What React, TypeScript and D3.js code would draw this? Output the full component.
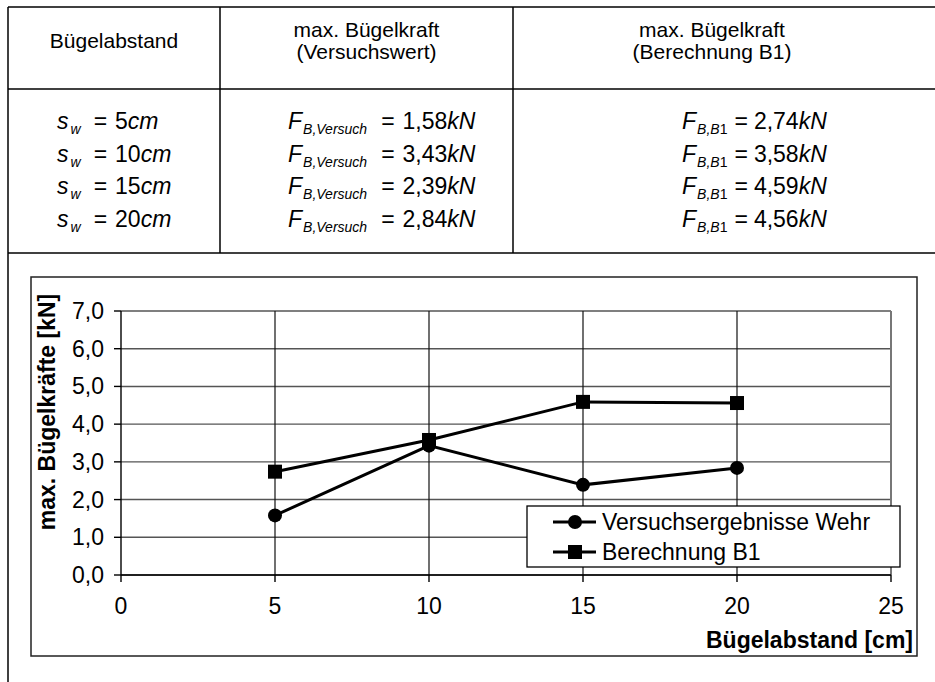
import React from "react";
import * as d3 from "d3";

const spacings = [5, 10, 15, 20];
const versuchValues = [1.58, 3.43, 2.39, 2.84];
const b1Values = [2.74, 3.58, 4.59, 4.56];
const versuchLabels = ["1,58", "3,43", "2,39", "2,84"];
const b1Labels = ["2,74", "3,58", "4,59", "4,56"];
const xTicks = [0, 5, 10, 15, 20, 25];
const yTicks = [0, 1, 2, 3, 4, 5, 6, 7];
const seriesNames = ["Versuchsergebnisse Wehr", "Berechnung B1"];
const headers = [["Bügelabstand"], ["max. Bügelkraft", "(Versuchswert)"], ["max. Bügelkraft", "(Berechnung B1)"]];

const FONT = "'Liberation Sans', Arial, sans-serif";

export default function App() {
  const x = d3.scaleLinear().domain([0, 25]).range([121, 891]);
  const y = d3.scaleLinear().domain([0, 7]).range([575, 311]);
  const line = d3.line<number>().x((d, i) => x(spacings[i])).y((d) => y(d));

  const col = [8, 220, 513, 935];
  const rowY = [121, 153.5, 186, 218.5];
  const fs = 23;
  const sub = 14;
  const cfs = 23;

  return (
    <svg width={935} height={682} style={{ position: "absolute", left: 0, top: 0, background: "#fff" }} fontFamily={FONT}>
      {/* table */}
      <g stroke="#000" strokeWidth={1.5}>
        <line x1={8} x2={935} y1={7} y2={7} />
        <line x1={8} x2={935} y1={89} y2={89} />
        <line x1={8} x2={935} y1={253} y2={253} />
        <line x1={8} x2={8} y1={7} y2={682} />
        <line x1={220} x2={220} y1={7} y2={253} />
        <line x1={513} x2={513} y1={7} y2={253} />
      </g>
      {headers.map((h, i) => {
        const cx = (col[i] + col[i + 1]) / 2 + (i === 2 ? -12 : 0);
        return (
          <text key={i} x={cx} textAnchor="middle" fontSize={21} fill="#000">
            {h.length === 1 ? (
              <tspan x={cx} y={48}>{h[0]}</tspan>
            ) : (
              h.map((t, j) => (
                <tspan key={j} x={cx} y={37 + j * 22}>{t}</tspan>
              ))
            )}
          </text>
        );
      })}
      {spacings.map((s, i) => (
        <g key={i} fontSize={fs} fill="#000">
          <text x={57} y={rowY[i] + 8}>
            <tspan fontStyle="italic">s</tspan>
            <tspan fontStyle="italic" fontSize={sub} dx={2} dy={5}>w</tspan>
            <tspan dx={13} dy={-5}>=</tspan>
            <tspan dx={8}>{String(s)}</tspan>
            <tspan fontStyle="italic">cm</tspan>
          </text>
          <text x={288} y={rowY[i] + 8}>
            <tspan fontStyle="italic">F</tspan>
            <tspan fontStyle="italic" fontSize={sub} dx={1} dy={5}>B,Versuch</tspan>
            <tspan dx={14} dy={-5}>=</tspan>
            <tspan dx={8}>{versuchLabels[i]}</tspan>
            <tspan fontStyle="italic">kN</tspan>
          </text>
          <text x={682} y={rowY[i] + 8}>
            <tspan fontStyle="italic">F</tspan>
            <tspan fontStyle="italic" fontSize={sub} dx={1} dy={5}>B,B</tspan>
            <tspan fontSize={sub}>1</tspan>
            <tspan dx={7} dy={-5}>=</tspan>
            <tspan dx={6}>{b1Labels[i]}</tspan>
            <tspan fontStyle="italic">kN</tspan>
          </text>
        </g>
      ))}

      {/* chart frame */}
      <rect x={31} y={277} width={886} height={379} fill="none" stroke="#222" strokeWidth={1.5} />

      {/* grid */}
      <g stroke="#555" strokeWidth={1.4}>
        {yTicks.map((t) => (
          <line key={"h" + t} x1={121} x2={891} y1={y(t)} y2={y(t)} />
        ))}
        {xTicks.filter((t) => t > 0).map((t) => (
          <line key={"v" + t} x1={x(t)} x2={x(t)} y1={311} y2={575} stroke={t === 25 ? "#777" : "#111"} strokeWidth={t === 25 ? 2 : 1.2} />
        ))}
      </g>
      {/* axes */}
      <g stroke="#000" strokeWidth={1.4}>
        <line x1={121} x2={121} y1={311} y2={575} />
        <line x1={121} x2={891} y1={575} y2={575} />
        {yTicks.map((t) => (
          <line key={"yt" + t} x1={114} x2={121} y1={y(t)} y2={y(t)} />
        ))}
        {xTicks.map((t) => (
          <line key={"xt" + t} x1={x(t)} x2={x(t)} y1={575} y2={582} />
        ))}
      </g>
      <g fontSize={cfs} fill="#000">
        {yTicks.map((t) => (
          <text key={"yl" + t} x={104} y={y(t) + 8} textAnchor="end">
            {t.toFixed(1).replace(".", ",")}
          </text>
        ))}
        {xTicks.map((t) => (
          <text key={"xl" + t} x={x(t)} y={614} textAnchor="middle">
            {t}
          </text>
        ))}
      </g>
      <text x={913} y={648} textAnchor="end" fontSize={cfs} fontWeight="bold" fill="#000">
        Bügelabstand [cm]
      </text>
      <text transform="translate(55,412) rotate(-90)" textAnchor="middle" fontSize={cfs} fontWeight="bold" fill="#000">
        max. Bügelkräfte [kN]
      </text>

      {/* series */}
      <path d={line(versuchValues) || ""} fill="none" stroke="#000" strokeWidth={3} />
      <path d={line(b1Values) || ""} fill="none" stroke="#000" strokeWidth={3} />
      {versuchValues.map((v, i) => (
        <circle key={"c" + i} cx={x(spacings[i])} cy={y(v)} r={7} fill="#000" />
      ))}
      {b1Values.map((v, i) => (
        <rect key={"s" + i} x={x(spacings[i]) - 7} y={y(v) - 7} width={14} height={14} fill="#000" />
      ))}

      {/* legend */}
      <rect x={527} y={506} width={373} height={61} fill="#fff" stroke="#000" strokeWidth={1.3} />
      {seriesNames.map((n, i) => {
        const ly = 522 + i * 30;
        return (
          <g key={n}>
            <line x1={553} x2={596} y1={ly} y2={ly} stroke="#000" strokeWidth={3} />
            {i === 0 ? (
              <circle cx={575} cy={ly} r={7} fill="#000" />
            ) : (
              <rect x={568} y={ly - 7} width={14} height={14} fill="#000" />
            )}
            <text x={602} y={ly + 8} fontSize={cfs} fill="#000">{n}</text>
          </g>
        );
      })}
    </svg>
  );
}
